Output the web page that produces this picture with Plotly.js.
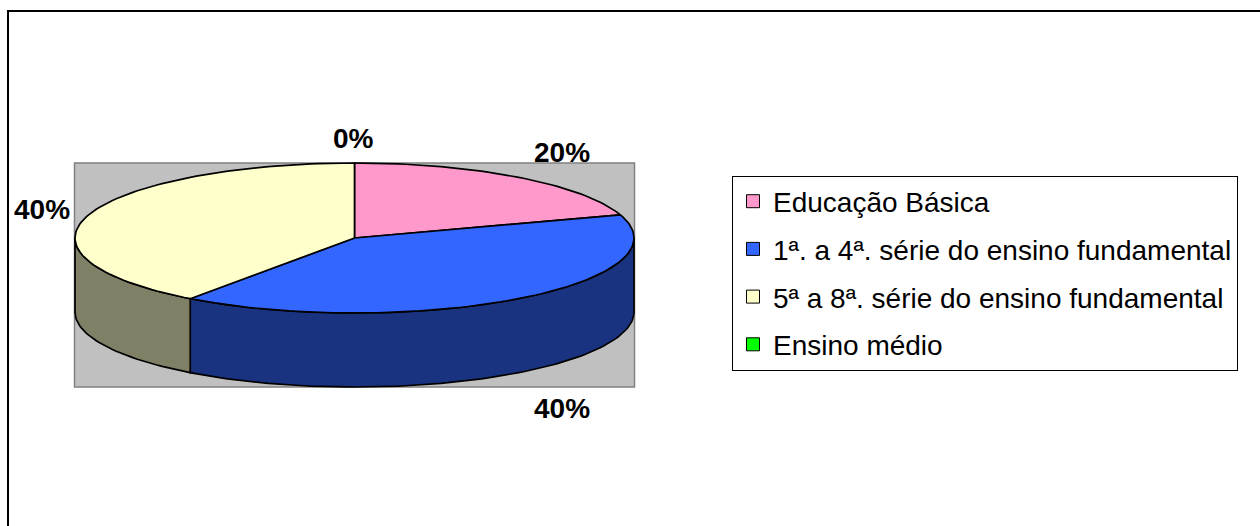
<!DOCTYPE html>
<html>
<head>
<meta charset="utf-8">
<script src="https://cdn.plot.ly/plotly-3.0.1.min.js"></script>
<style>html,body{margin:0;padding:0;background:#fff;}#chart{width:1260px;height:526px;}</style>
</head>
<body>
<div id="chart"></div>
<script>
// ---- data ----
const categories = ['Educação Básica', '1ª. a 4ª. série do ensino fundamental', '5ª a 8ª. série do ensino fundamental', 'Ensino médio'];
const values = [20, 40, 40, 0];
const topColors = ['#FF99CC', '#3366FF', '#FFFFCC', '#00FF00'];
const sideColors = ['#804D66', '#1A3380', '#808066', '#008000'];

// ---- geometry of the 3D pie (pixel-like axis units) ----
const cx = 354.5, cy = 238, rx = 279.5, ry = 75, depth = 74;
const total = values.reduce((a, b) => a + b, 0);
function pt(deg, dy) {
  const r = deg * Math.PI / 180;
  return [cx + rx * Math.sin(r), cy - ry * Math.cos(r) + (dy || 0)];
}
function arc(a1, a2, dy) {
  const pts = [];
  const n = Math.max(2, Math.ceil(Math.abs(a2 - a1) / 1.5));
  for (let i = 0; i <= n; i++) pts.push(pt(a1 + (a2 - a1) * i / n, dy));
  return pts;
}
const starts = [], ends = [];
let acc = 0;
values.forEach(v => { starts.push(acc / total * 360); acc += v; ends.push(acc / total * 360); });

const traces = [];
const lineStyle = {color: '#000', width: 1.7};
// side walls (front half only: 90..270 deg)
values.forEach((v, i) => {
  const s = Math.max(starts[i], 90), e = Math.min(ends[i], 270);
  if (e <= s) return;
  const pts = arc(s, e, 0).concat(arc(e, s, depth));
  pts.push(pts[0]);
  traces.push({type: 'scatter', mode: 'lines', x: pts.map(p => p[0]), y: pts.map(p => p[1]),
    fill: 'toself', fillcolor: sideColors[i], line: lineStyle, showlegend: false, hoverinfo: 'skip'});
});
// top faces
values.forEach((v, i) => {
  if (v <= 0) return;
  const pts = [[cx, cy]].concat(arc(starts[i], ends[i], 0));
  pts.push([cx, cy]);
  traces.push({type: 'scatter', mode: 'lines', x: pts.map(p => p[0]), y: pts.map(p => p[1]),
    fill: 'toself', fillcolor: topColors[i], line: lineStyle, showlegend: false, hoverinfo: 'skip'});
});
// legend entries
categories.forEach((c, i) => {
  traces.push({type: 'scatter', mode: 'markers', x: [null], y: [null], name: c, legendgroup: 'g' + i,
    marker: {symbol: 'square', size: 13, color: topColors[i], line: {color: '#000', width: 1}}, hoverinfo: 'skip'});
});

const pct = values.map(v => Math.round(v / total * 100) + '%');
const labelFont = {family: 'Liberation Sans, Arial, sans-serif', size: 28, color: '#000', weight: 'bold'};
const labelPos = [[562, 152], [562, 408], [42, 209], [353, 138]];
const annotations = values.map((v, i) => ({
  x: labelPos[i][0], y: labelPos[i][1], xref: 'x', yref: 'y', text: '<b>' + pct[i] + '</b>',
  showarrow: false, xanchor: 'center', yanchor: 'middle', font: labelFont
}));

const layout = {
  width: 1260, height: 526,
  margin: {l: 0, r: 0, t: 0, b: 0},
  paper_bgcolor: '#fff', plot_bgcolor: '#fff',
  xaxis: {range: [0, 1260], visible: false, fixedrange: true},
  yaxis: {range: [526, 0], visible: false, fixedrange: true},
  showlegend: true,
  legend: {
    x: 732 / 1260, y: 1 - 175.5 / 526, xanchor: 'left', yanchor: 'top',
    bordercolor: '#000', borderwidth: 1, bgcolor: '#fff',
    font: {family: 'Liberation Sans, Arial, sans-serif', size: 28, color: '#000'},
    tracegroupgap: 8.3, traceorder: 'grouped', itemwidth: 30
  },
  shapes: [
    {type: 'rect', xref: 'x', yref: 'y', x0: 8, x1: 1275, y0: 11, y1: 540, line: {color: '#000', width: 2}, layer: 'below'},
    {type: 'rect', xref: 'x', yref: 'y', x0: 74.5, x1: 634.5, y0: 163, y1: 387, fillcolor: '#C0C0C0', line: {color: '#808080', width: 1.5}, layer: 'below'}
  ],
  annotations: annotations
};

Plotly.newPlot('chart', traces, layout, {staticPlot: true, displayModeBar: false});
</script>
</body>
</html>
